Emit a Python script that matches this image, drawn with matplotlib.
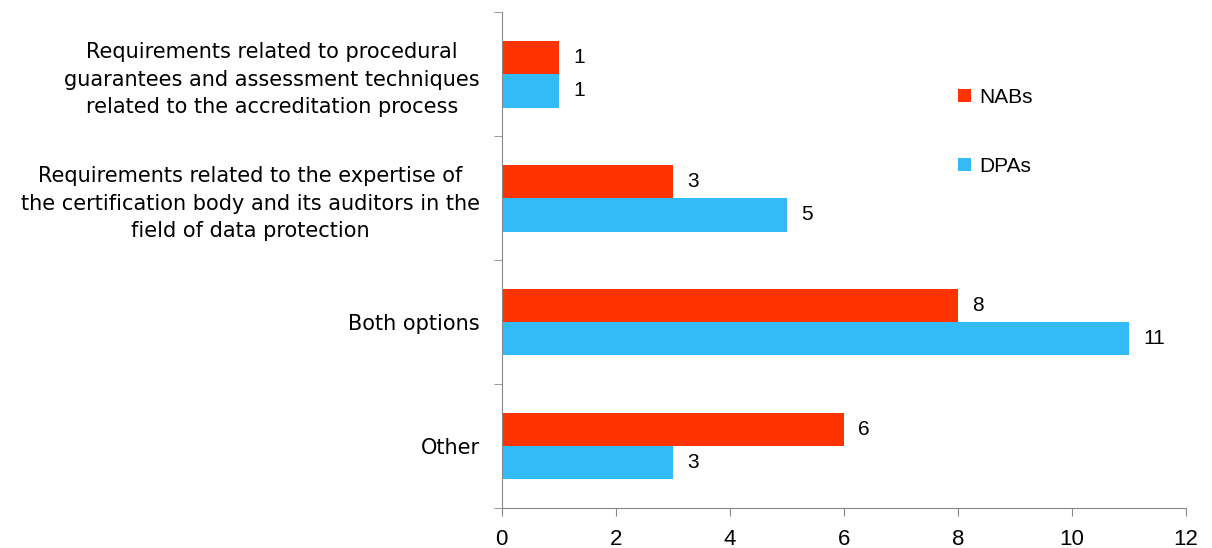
import numpy as np
import matplotlib.pyplot as plt

categories = [
    "Requirements related to procedural\nguarantees and assessment techniques\nrelated to the accreditation process",
    "Requirements related to the expertise of\nthe certification body and its auditors in the\nfield of data protection",
    "Both options",
    "Other",
]
nabs = [1, 3, 8, 6]
dpas = [1, 5, 11, 3]

plt.rcParams['font.family'] = ['Liberation Sans', 'DejaVu Sans']

fig = plt.figure(figsize=(12.12, 5.48), dpi=100)
ax = fig.add_axes([0.414, 0.073, 0.5645, 0.905])

y = np.arange(len(categories))
h = 0.27
red = '#FF3300'
blue = '#33BBF7'
ax.barh(y - h / 2, nabs, height=h, color=red, label='NABs')
ax.barh(y + h / 2, dpas, height=h, color=blue, label='DPAs')

for yi, v in zip(y, nabs):
    ax.text(v + 0.25, yi - h / 2, str(v), va='center', ha='left', fontsize=15)
for yi, v in zip(y, dpas):
    ax.text(v + 0.25, yi + h / 2, str(v), va='center', ha='left', fontsize=15)

ax.set_xlim(0, 12)
ax.set_ylim(len(categories) - 0.5, -0.5)
ax.set_xticks(range(0, 13, 2))
ax.tick_params(axis='x', labelsize=16, length=6, pad=9, color='#888888', direction='out')

ax.set_yticks(y)
ax.set_yticklabels(categories, fontsize=15, family='DejaVu Sans',
                   ha='right', multialignment='center', linespacing=1.45)
ax.tick_params(axis='y', which='major', length=0, pad=16)
ax.set_yticks(np.arange(-0.5, len(categories), 1), minor=True)
ax.tick_params(axis='y', which='minor', length=6, color='#888888', direction='out')

for side in ['top', 'right']:
    ax.spines[side].set_visible(False)
for side in ['left', 'bottom']:
    ax.spines[side].set_color('#888888')

ax.legend(loc='upper left', bbox_to_anchor=(0.64, 0.885), frameon=False,
          fontsize=15, handlelength=0.6, handleheight=0.6, handletextpad=0.4,
          labelspacing=2.4)

fig.savefig('out.png', dpi=100)
